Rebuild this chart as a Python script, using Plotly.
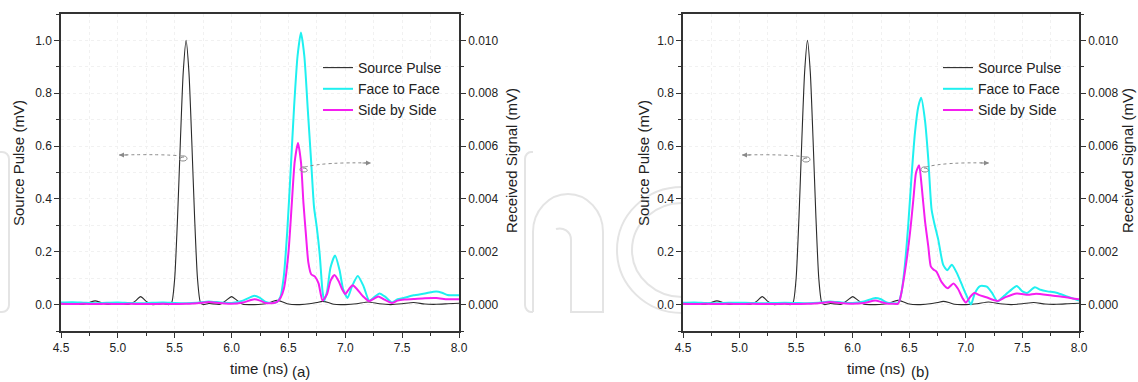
import plotly.graph_objects as go

# ---------------- data ----------------
t_src = [4.5, 4.6, 4.7, 4.75, 4.8, 4.85, 4.9, 5.0, 5.1, 5.15, 5.2, 5.25, 5.3, 5.4, 5.45,
         5.475, 5.5, 5.525, 5.55, 5.575, 5.6, 5.625, 5.65, 5.675, 5.7, 5.725, 5.75, 5.8,
         5.9, 5.95, 6.0, 6.05, 6.1, 6.2, 6.3, 6.35, 6.4, 6.45, 6.5, 6.6, 6.7, 6.75, 6.8,
         6.85, 6.9, 7.0, 7.1, 7.2, 7.3, 7.4, 7.5, 7.6, 7.7, 7.8, 7.9, 8.0]
source_pulse = [0.002, 0.001, 0.001, 0.008, 0.014, 0.008, 0.001, 0.002, 0.001, 0.012, 0.03, 0.012, 0.0, 0.003, 0.0,
                0.01, 0.1, 0.33, 0.62, 0.88, 1.0, 0.88, 0.62, 0.33, 0.1, 0.01, 0.0, 0.004,
                0.001, 0.015, 0.03, 0.015, 0.001, 0.0, 0.003, 0.01, 0.016, 0.01, 0.002, 0.0, 0.004, 0.008, 0.012,
                0.008, 0.001, 0.0, 0.003, 0.01, 0.003, 0.0, 0.003, 0.008, 0.002, 0.001, 0.003, 0.005]

# panel (a)
t_ff_a = [4.5, 4.6, 4.7, 4.8, 4.9, 5.0, 5.1, 5.2, 5.3, 5.4, 5.5, 5.6, 5.7, 5.8, 5.9, 6.0, 6.1, 6.2,
          6.25, 6.3, 6.35, 6.4, 6.43, 6.46, 6.49, 6.52, 6.55, 6.58, 6.61, 6.64, 6.67, 6.70, 6.725,
          6.75, 6.775, 6.80, 6.815, 6.84, 6.87, 6.91, 6.95, 6.98, 7.02, 7.06, 7.11, 7.16, 7.21,
          7.26, 7.3, 7.35, 7.41, 7.46, 7.52, 7.6, 7.7, 7.8, 7.85, 7.9, 8.0]
ff_a = [0.00008, 0.00009, 0.00007, 0.00005, 0.00007, 0.00008, 0.00006, 0.00005, 0.00007, 0.00008,
        0.00006, 0.00005, 0.00007, 0.00012, 0.00008, 0.00006, 0.00015, 0.00033,
        0.00025, 0.0001, 0.00006, 0.0001, 0.0003, 0.0011, 0.0028, 0.0051, 0.0075, 0.0094, 0.0103,
        0.0094, 0.0074, 0.0054, 0.0037,
        0.0029, 0.0019, 0.0005, 0.00015, 0.0005, 0.0014, 0.00186, 0.0013, 0.0006, 0.00025, 0.0007,
        0.00108, 0.0007, 0.00015,
        0.0003, 0.00042, 0.0003, 0.00008, 0.0002, 0.00026, 0.00035, 0.00042, 0.0005, 0.00045, 0.00036, 0.00035]

t_sbs_a = [4.5, 4.6, 4.7, 4.8, 4.9, 5.0, 5.1, 5.2, 5.3, 5.4, 5.5, 5.6, 5.7, 5.8, 5.9, 6.0, 6.1, 6.2,
           6.25, 6.3, 6.35, 6.4, 6.43, 6.46, 6.50, 6.53, 6.555, 6.584, 6.61, 6.632, 6.655, 6.675,
           6.70, 6.735, 6.765, 6.80, 6.84, 6.87, 6.905, 6.94, 6.97, 7.0, 7.035, 7.065, 7.1, 7.16,
           7.21, 7.25, 7.29, 7.34, 7.41, 7.46, 7.52, 7.6, 7.7, 7.8, 7.9, 8.0]
sbs_a = [0.00003, 0.00002, 0.00003, 0.00002, 0.00003, 0.00002, 0.00003, 0.00002, 0.00002, 0.00003,
         0.00002, 0.00003, 0.00005, 0.0001, 0.00006, 0.00003, 0.00008, 0.0002,
         0.00015, 0.00006, 0.00005, 0.0001, 0.00025, 0.0006, 0.00196, 0.00385, 0.0054, 0.00612, 0.0054,
         0.00385, 0.00259, 0.0016,
         0.00115, 0.00105, 0.0008, 0.00015, 0.0004, 0.0009, 0.00112, 0.0009, 0.0006, 0.0004, 0.0006,
         0.00073, 0.0006, 0.0003,
         0.00013, 0.00022, 0.00031, 0.0002, 0.00006, 0.00015, 0.00019, 0.00021, 0.00024, 0.00025, 0.0002, 0.0002]

# panel (b)
t_ff_b = [4.5, 4.6, 4.7, 4.8, 4.9, 5.0, 5.1, 5.2, 5.3, 5.4, 5.5, 5.6, 5.7, 5.8, 5.9, 6.0, 6.1, 6.2,
          6.25, 6.3, 6.35, 6.4, 6.43, 6.46, 6.49, 6.52, 6.55, 6.58, 6.605, 6.638, 6.668, 6.697,
          6.72, 6.756, 6.80, 6.835, 6.876, 6.92, 6.96, 7.0, 7.045, 7.08, 7.126, 7.185, 7.23, 7.28,
          7.33, 7.39, 7.45, 7.5, 7.54, 7.61, 7.66, 7.72, 7.8, 7.9, 8.0]
ff_b = [0.00007, 0.00008, 0.00006, 0.00005, 0.00007, 0.00007, 0.00006, 0.00005, 0.00006, 0.00007,
        0.00006, 0.00005, 0.00007, 0.00012, 0.00008, 0.00006, 0.00012, 0.00025,
        0.0002, 0.00008, 0.00005, 0.00005, 0.00044, 0.00145, 0.00297, 0.00486, 0.0065, 0.0075, 0.00783,
        0.007, 0.0055, 0.0036,
        0.0031, 0.00246, 0.0015, 0.0013, 0.00151, 0.0012, 0.0008, 0.0004, 0.0, 0.00044, 0.0007,
        0.00068, 0.00045, 0.00012,
        0.0003, 0.00052, 0.0007, 0.0005, 0.00044, 0.00066, 0.00056, 0.0005, 0.00045, 0.0003, 0.00015]

t_sbs_b = [4.5, 4.6, 4.7, 4.8, 4.9, 5.0, 5.1, 5.2, 5.3, 5.4, 5.5, 5.6, 5.7, 5.8, 5.9, 6.0, 6.1, 6.2,
           6.25, 6.3, 6.35, 6.4, 6.417, 6.46, 6.506, 6.536, 6.56, 6.587, 6.609, 6.638, 6.668, 6.69,
           6.713, 6.74, 6.786, 6.84, 6.89, 6.93, 6.97, 7.0, 7.04, 7.075, 7.12, 7.18, 7.28, 7.35,
           7.45, 7.55, 7.62, 7.75, 7.85, 8.0]
sbs_b = [0.00003, 0.00002, 0.00003, 0.00002, 0.00003, 0.00002, 0.00003, 0.00002, 0.00002, 0.00003,
         0.00002, 0.00003, 0.00005, 0.0001, 0.00006, 0.00003, 0.00006, 0.00015,
         0.0001, 0.00004, 0.00003, 0.00003, 0.00019, 0.0012, 0.0027, 0.00398, 0.005, 0.00527, 0.0045,
         0.0032, 0.0022, 0.00145,
         0.00133, 0.00125, 0.00085, 0.00062, 0.0008, 0.0006, 0.00025, 0.00008, 0.0003, 0.00044, 0.00036,
         0.00028, 0.00014, 0.00028,
         0.00042, 0.00037, 0.00041, 0.00035, 0.0003, 0.0002]

x_ticks = [4.5, 5.0, 5.5, 6.0, 6.5, 7.0, 7.5, 8.0]
left_ticks = [0.0, 0.2, 0.4, 0.6, 0.8, 1.0]
right_ticks = [0.000, 0.002, 0.004, 0.006, 0.008, 0.010]
series_names = ["Source Pulse", "Face to Face", "Side by Side"]
panel_labels = ["(a)", "(b)"]

# ---------------- figure ----------------
W, H = 1138, 382
ML, MR, MT, MB = 61, 59, 14, 51
PW, PH = W - ML - MR, H - MT - MB


def px(x):
    return (x - ML) / PW


def py(y):
    return (H - MB - y) / PH


def P(x, y):
    return f"{px(x)},{py(y)}"


C_SRC = "#2b2b2b"
C_FF = "#1ff0f0"
C_SBS = "#f51ef0"
AX = "#333333"
GRID = "#f1f1f1"

fig = go.Figure()

panels = [
    dict(x="x", yl="y", yr="y2", legend="legend",
         ff=(t_ff_a, ff_a), sbs=(t_sbs_a, sbs_a)),
    dict(x="x2", yl="y3", yr="y4", legend="legend2",
         ff=(t_ff_b, ff_b), sbs=(t_sbs_b, sbs_b)),
]

for p in panels:
    fig.add_trace(go.Scatter(x=t_src, y=source_pulse, name=series_names[0], mode="lines",
                             line=dict(color=C_SRC, width=1.1, shape="spline", smoothing=0.6),
                             xaxis=p["x"], yaxis=p["yl"], legend=p["legend"]))
    fig.add_trace(go.Scatter(x=p["ff"][0], y=p["ff"][1], name=series_names[1], mode="lines",
                             line=dict(color=C_FF, width=2, shape="spline", smoothing=0.6),
                             xaxis=p["x"], yaxis=p["yr"], legend=p["legend"]))
    fig.add_trace(go.Scatter(x=p["sbs"][0], y=p["sbs"][1], name=series_names[2], mode="lines",
                             line=dict(color=C_SBS, width=2, shape="spline", smoothing=0.6),
                             xaxis=p["x"], yaxis=p["yr"], legend=p["legend"]))

FONT = "Arial, Liberation Sans, sans-serif"
xcommon = dict(range=[4.5, 8.0], tickvals=x_ticks, tickformat=".1f", showline=True,
               linecolor=AX, linewidth=1.5, mirror=True, ticks="outside", ticklen=5,
               tickwidth=1.2, tickcolor=AX, showgrid=True, gridcolor=GRID, griddash="dot",
               zeroline=False, tickfont=dict(size=12, color="#222"),
               minor=dict(dtick=0.25, ticks="outside", ticklen=3, tickcolor=AX,
                          showgrid=True, gridcolor=GRID, griddash="dot"))
ylcommon = dict(range=[-0.1, 1.1], tickvals=left_ticks, tickformat=".1f", showline=True,
                linecolor=AX, linewidth=1.5, ticks="outside", ticklen=5, tickwidth=1.2,
                tickcolor=AX, showgrid=True, gridcolor=GRID, griddash="dot", zeroline=False,
                tickfont=dict(size=12, color="#222"),
                minor=dict(dtick=0.1, ticks="outside", ticklen=3, tickcolor=AX,
                           showgrid=True, gridcolor=GRID, griddash="dot"))
yrcommon = dict(range=[-0.001, 0.011], tickvals=right_ticks, tickformat=".3f", showline=True,
                linecolor=AX, linewidth=1.5, ticks="outside", ticklen=5, tickwidth=1.2,
                tickcolor=AX, showgrid=False, zeroline=False, side="right",
                tickfont=dict(size=12, color="#222"),
                minor=dict(dtick=0.001, ticks="outside", ticklen=3, tickcolor=AX))

dom_a = [0, px(459)]
dom_b = [px(683), 1]

fig.update_layout(
    width=W, height=H, margin=dict(l=ML, r=MR, t=MT, b=MB),
    paper_bgcolor="white", plot_bgcolor="white",
    font=dict(family=FONT, color="#222"),
    xaxis=dict(domain=dom_a, anchor="y", **xcommon),
    yaxis=dict(anchor="x", **ylcommon),
    yaxis2=dict(anchor="x", overlaying="y", **yrcommon),
    xaxis2=dict(domain=dom_b, anchor="y3", **xcommon),
    yaxis3=dict(anchor="x2", **ylcommon),
    yaxis4=dict(anchor="x2", overlaying="y3", **yrcommon),
    legend=dict(x=px(318), y=py(52), xanchor="left", yanchor="top",
                bgcolor="rgba(0,0,0,0)", font=dict(size=14, color="#222"),
                tracegroupgap=0, itemwidth=30),
    legend2=dict(x=px(938), y=py(52), xanchor="left", yanchor="top",
                 bgcolor="rgba(0,0,0,0)", font=dict(size=14, color="#222"),
                 tracegroupgap=0, itemwidth=30),
    showlegend=True,
)

# axis titles and panel labels (as annotations for exact placement)
ann = []


def label(x, y, text, angle=0):
    ann.append(dict(x=px(x), y=py(y), xref="paper", yref="paper", text=text,
                    textangle=angle, showarrow=False, xanchor="center", yanchor="middle",
                    font=dict(size=15, color="#222")))


for (xl, xr, xc) in [(18, 511, 259), (643, 1127, 876)]:
    label(xl, 163, "Source Pulse (mV)", -90)
    label(xr, 161, "Received Signal (mV)", -90)
    label(xc, 368, "time (ns)")
label(301, 371, panel_labels[0])
label(920, 371, panel_labels[1])

shapes = []

# faint background watermark, only in the margins between/outside the plot areas
WM = "#e4e4e4"
k = 0.552
wm_paths = [
    # right edge of a rounded frame at the far left
    f"M {P(-20, 152)} L {P(2, 152)} C {P(6, 152)} {P(9, 155)} {P(9, 159)} "
    f"L {P(9, 305)} C {P(9, 309)} {P(6, 312)} {P(2, 312)} L {P(-20, 312)}",
    # left edge of the frame around the letters
    f"M {P(533, 152)} L {P(531, 152)} C {P(528, 152)} {P(525, 155)} {P(525, 159)} "
    f"L {P(525, 305)} C {P(525, 309)} {P(528, 312)} {P(531, 312)} L {P(533, 312)}",
    # letter n
    f"M {P(533, 312)} L {P(533, 232)} C {P(533, 232 - k*38)} {P(568 - k*35, 194)} {P(568, 194)} "
    f"C {P(568 + k*35, 194)} {P(603, 232 - k*38)} {P(603, 232)} L {P(603, 312)} L {P(571, 312)} "
    f"L {P(571, 240)} C {P(571, 231)} {P(563, 227)} {P(556, 229)}",
    # letter o (left side, up to plot b)
    f"M {P(682, 187)} C {P(646, 187)} {P(617, 215)} {P(617, 250)} C {P(617, 285)} {P(646, 313)} {P(682, 313)}",
    f"M {P(682, 203)} C {P(657, 203)} {P(632, 222)} {P(632, 250)} C {P(632, 278)} {P(657, 297)} {P(682, 297)}",
]
for pth in wm_paths:
    shapes.append(dict(type="path", xref="paper", yref="paper", layer="below",
                       path=pth, line=dict(color=WM, width=2)))

# indicator arrows (curl + dotted line + arrowhead)
ARW = "#8a8a8a"
arrows = [
    # (curl centre x, y, head x, y, direction)
    (182, 158, 119, 155, -1),
    (305, 169, 371, 163, 1),
    (805, 159, 742, 155, -1),
    (926, 169, 989, 163, 1),
]
for cx, cy, hx, hy, d in arrows:
    shapes.append(dict(type="path", xref="paper", yref="paper", layer="above",
                       path=(f"M {P(cx, cy - 2)} "
                             f"C {P(cx - 6*d, cy - 3)} {P(cx - 7*d, cy + 3)} {P(cx - d, cy + 3)} "
                             f"C {P(cx + 4*d, cy + 3)} {P(cx + 3*d, cy - 1)} {P(cx - 2*d, cy - 1)}"),
                       line=dict(color=ARW, width=1)))
    shapes.append(dict(type="path", xref="paper", yref="paper", layer="above",
                       path=(f"M {P(cx, cy - 2)} "
                             f"Q {P(cx + (hx - cx) * 0.3, hy - 1)} {P(hx, hy)}"),
                       line=dict(color=ARW, width=1, dash="dot")))
    ann.append(dict(x=px(hx), y=py(hy), xref="paper", yref="paper", ax=-d * 10, ay=0,
                    showarrow=True, arrowhead=2, arrowsize=1, arrowwidth=1,
                    arrowcolor=ARW, text=""))

fig.update_layout(annotations=ann, shapes=shapes)

fig.write_html("out.html")
